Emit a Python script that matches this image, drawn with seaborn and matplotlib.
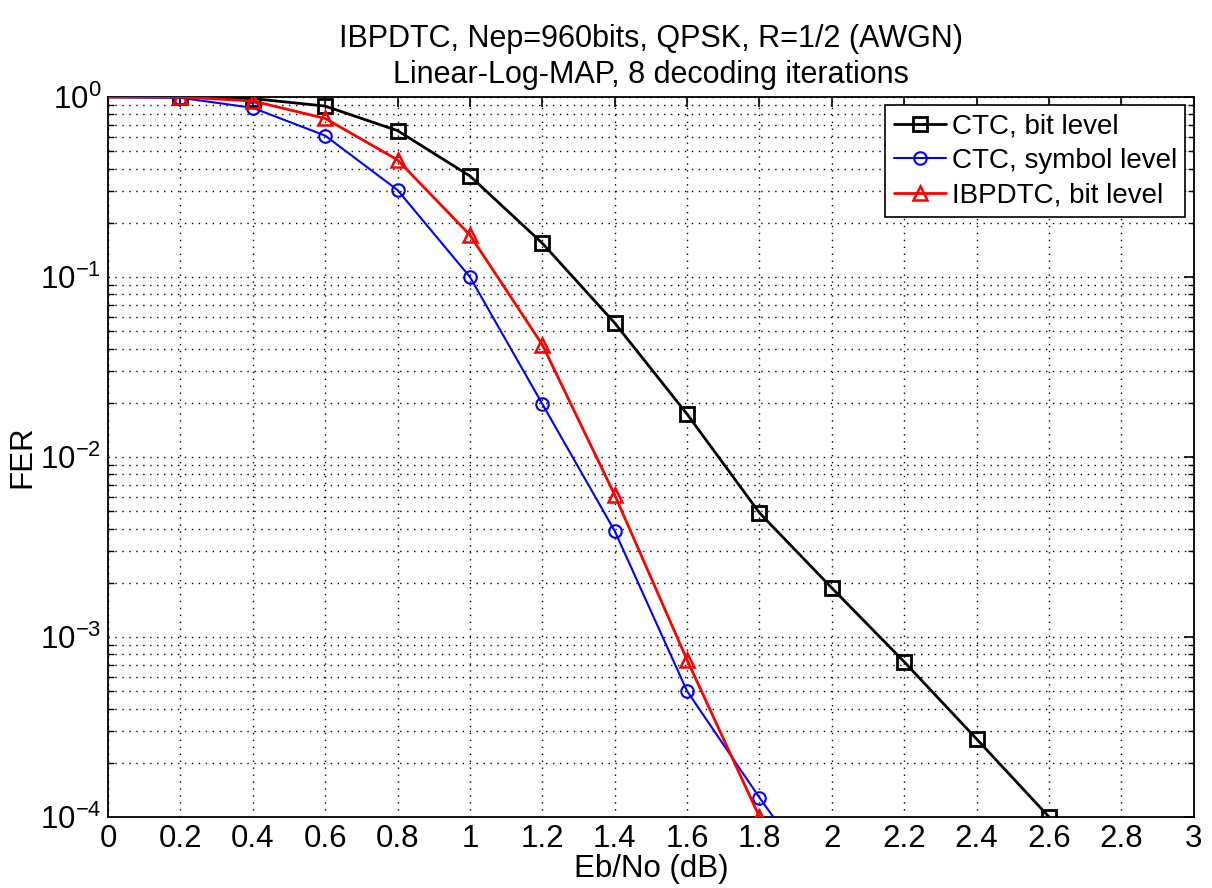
import numpy as np
import pandas as pd
import matplotlib
matplotlib.use("Agg")
import matplotlib.pyplot as plt
import seaborn as sns
from matplotlib.ticker import LogLocator, NullFormatter, FixedLocator

# ---- data ----
ebno_ctc_bit = [0.0, 0.2, 0.4, 0.6, 0.8, 1.0, 1.2, 1.4, 1.6, 1.8, 2.0, 2.2, 2.4, 2.6]
fer_ctc_bit = [1.0, 1.0, 0.98, 0.89, 0.65, 0.364, 0.154, 0.0555, 0.0173, 0.00489,
               0.00187, 7.27e-4, 2.71e-4, 1.0e-4]

ebno_ctc_sym = [0.0, 0.2, 0.4, 0.6, 0.8, 1.0, 1.2, 1.4, 1.6, 1.8, 2.0]
fer_ctc_sym = [1.0, 0.99, 0.87, 0.61, 0.304, 0.1, 0.0197, 0.00388, 5.0e-4, 1.28e-4, 3.5e-5]

ebno_ibpdtc = [0.0, 0.2, 0.4, 0.6, 0.8, 1.0, 1.2, 1.4, 1.6, 1.8]
fer_ibpdtc = [1.0, 1.0, 0.95, 0.76, 0.447, 0.171, 0.042, 0.00615, 7.45e-4, 1.0e-4]

series_names = ["CTC, bit level", "CTC, symbol level", "IBPDTC, bit level"]
x_ticks = [0, 0.2, 0.4, 0.6, 0.8, 1.0, 1.2, 1.4, 1.6, 1.8, 2.0, 2.2, 2.4, 2.6, 2.8, 3.0]
x_tick_labels = ["0", "0.2", "0.4", "0.6", "0.8", "1", "1.2", "1.4", "1.6", "1.8",
                 "2", "2.2", "2.4", "2.6", "2.8", "3"]
y_ticks = [1e-4, 1e-3, 1e-2, 1e-1, 1e0]

title_lines = ["IBPDTC, Nep=960bits, QPSK, R=1/2 (AWGN)", "Linear-Log-MAP, 8 decoding iterations"]

sns.set_style("white")
plt.rcParams['font.family'] = ['Liberation Sans', 'DejaVu Sans']
plt.rcParams['mathtext.fontset'] = 'custom'
plt.rcParams['mathtext.rm'] = 'Liberation Sans'
plt.rcParams['text.color'] = 'black'
plt.rcParams['axes.labelcolor'] = 'black'
plt.rcParams['xtick.color'] = 'black'
plt.rcParams['ytick.color'] = 'black'

fig = plt.figure(figsize=(12.12, 8.88), dpi=100)
ax = fig.add_axes([0.0891, 0.080, 0.8959, 0.8108])

styles = [
    dict(color="black", marker="s", lw=2.0, ms=10, mew=2.0),
    dict(color="blue", marker="o", lw=1.5, ms=9, mew=1.5),
    dict(color="red", marker="^", lw=2.0, ms=10, mew=1.8),
]
datasets = [(ebno_ctc_bit, fer_ctc_bit), (ebno_ctc_sym, fer_ctc_sym), (ebno_ibpdtc, fer_ibpdtc)]

for (xs, ys), name, st in zip(datasets, series_names, styles):
    df = pd.DataFrame({"x": xs, "y": ys})
    sns.lineplot(data=df, x="x", y="y", ax=ax, color=st["color"], lw=st["lw"],
                 marker=st["marker"], markersize=st["ms"], markeredgewidth=st["mew"],
                 markerfacecolor="none", markeredgecolor=st["color"],
                 markevery=list(range(1, len(xs))), label=name, zorder=3)

ax.set_yscale("log")
ax.set_xlim(0, 3)
ax.set_ylim(1e-4, 1)
ax.xaxis.set_major_locator(FixedLocator(x_ticks))
ax.set_xticklabels(x_tick_labels)
ax.yaxis.set_major_locator(FixedLocator(y_ticks))
ax.yaxis.set_minor_locator(LogLocator(base=10, subs=np.arange(2, 10), numticks=20))
ax.yaxis.set_minor_formatter(NullFormatter())

ax.grid(True, which="major", axis="both", color="black", linestyle=(0, (1, 4)), linewidth=1.0)
ax.grid(True, which="minor", axis="y", color="black", linestyle=(0, (1, 4)), linewidth=1.0)
ax.set_axisbelow(True)

ax.tick_params(axis="both", which="major", direction="in", length=7, width=1.2,
               labelsize=22.5, top=True, right=True, pad=5)
ax.tick_params(axis="y", which="minor", direction="in", length=4, width=1.0,
               left=True, right=True)
for sp in ax.spines.values():
    sp.set_visible(True)
    sp.set_color("black")
    sp.set_linewidth(1.3)

ax.set_xlabel("Eb/No (dB)", fontsize=22.5, labelpad=0)
ax.set_ylabel("FER", fontsize=22.5, labelpad=2)
ax.set_title("\n".join(title_lines), fontsize=22, pad=10, linespacing=1.25)

leg = ax.legend(loc="upper right", fontsize=20, frameon=True, fancybox=False,
                edgecolor="black", framealpha=1, handlelength=1.9, handletextpad=0.2,
                borderpad=0.3, labelspacing=0.3, borderaxespad=0.3)
leg.get_frame().set_linewidth(1.2)

fig.savefig("out.png", dpi=100)
